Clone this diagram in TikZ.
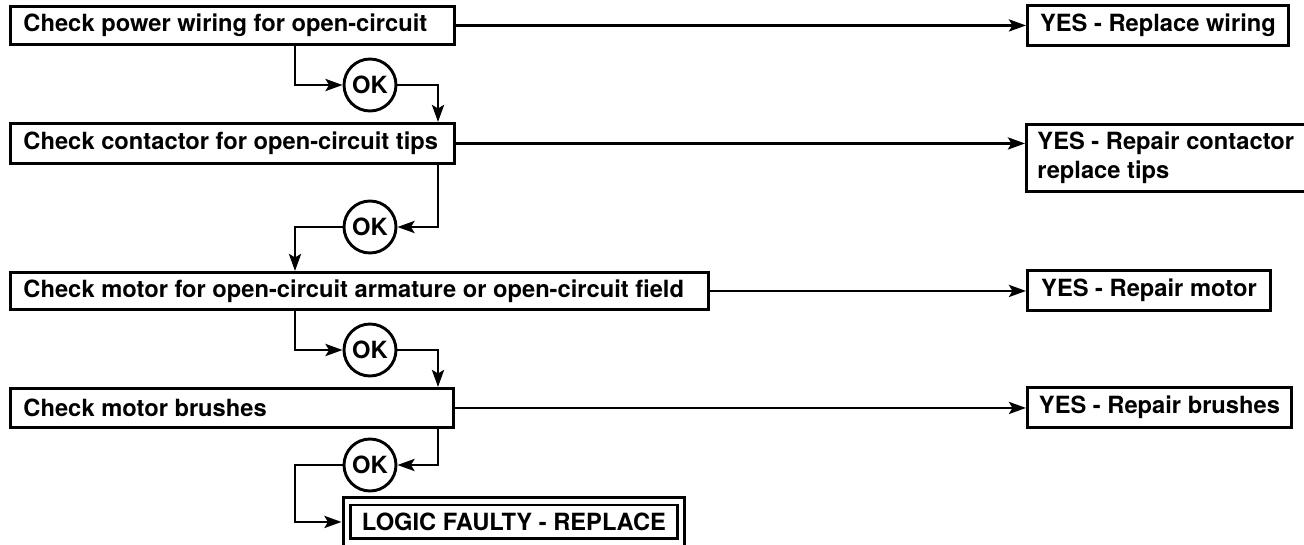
\documentclass[tikz,border=0pt]{standalone}
\usepackage{fontspec}
\setmainfont{TeX Gyre Heros}
\usetikzlibrary{arrows.meta}
\begin{document}
\begin{tikzpicture}[x=1pt,y=-1pt,
  every node/.style={font=\fontsize{23.7}{29}\selectfont\bfseries},
  lw/.style={line width=2.9pt},
  chkbox/.style={draw, lw, anchor=north west, inner xsep=13pt, inner ysep=0pt, align=left},
  yesbox/.style={draw, lw, anchor=north west, inner xsep=10pt, inner ysep=0pt},
  okc/.style={draw, lw, circle, minimum size=52pt, inner sep=0pt},
  arr/.style={lw, -{Stealth[length=17pt,width=12pt,inset=3.5pt]}}]
\fill[white] (0,0) rectangle (1304,544);
\useasboundingbox (0,0) rectangle (1304,544);
\clip (0,0) rectangle (1304,544);

\coordinate (cL) at (295,0);
\coordinate (cR) at (438,0);

\node[chkbox, minimum height=38pt] (b1) at (9,5) {\makebox[418pt][l]{Check power wiring for open-circuit}};
\node[chkbox, minimum height=40pt] (b2) at (9,122) {\makebox[418pt][l]{Check contactor for open-circuit tips}};
\node[chkbox, minimum height=37pt] (b3) at (9,271) {\makebox[672pt][l]{Check motor for open-circuit armature or open-circuit field}};
\node[chkbox, minimum height=39pt] (b4) at (9,387) {\makebox[417pt][l]{Check motor brushes}};

\node[yesbox, minimum width=261pt, minimum height=40pt] (y1) at (1026,4) {YES - Replace wiring};
\node[yesbox, minimum height=67pt, inner xsep=11pt] (y2) at (1025,123) {\parbox{300pt}{YES - Repair contactor\\replace tips}};
\node[yesbox, minimum width=243pt, minimum height=40pt] (y3) at (1026,269) {YES - Repair motor};
\node[yesbox, minimum width=264pt, minimum height=40pt] (y4) at (1026,386) {YES - Repair brushes};

\node[okc] (ok1) at (370,85) {OK};
\node[okc] (ok2) at (370,227) {OK};
\node[okc] (ok3) at (370,350) {OK};
\node[okc] (ok4) at (370,465) {OK};

\node[draw, lw, double, double distance=4.2pt, minimum width=334pt, minimum height=41pt, inner sep=0pt, anchor=north west] (lg) at (345.5,500) {LOGIC FAULTY - REPLACE};

\draw[arr] (b1.east) -- (b1.east -| y1.west);
\draw[arr] (b1.south -| cL) |- (ok1.west);
\draw[arr] (ok1.east) -| (b2.north -| cR);
\draw[arr] (b2.east) -- (b2.east -| y2.west);
\draw[arr] (b2.south -| cR) |- (ok2.east);
\draw[arr] (ok2.west) -| (b3.north -| cL);
\draw[arr] (b3.east) -- (b3.east -| y3.west);
\draw[arr] (b3.south -| cL) |- (ok3.west);
\draw[arr] (ok3.east) -| (b4.north -| cR);
\draw[arr] (b4.east) -- (b4.east -| y4.west);
\draw[arr] (b4.south -| cR) |- (ok4.east);
\draw[arr, shorten >=4pt] (ok4.west) -| (cL |- lg.west) -- (lg.west);
\end{tikzpicture}
\end{document}
